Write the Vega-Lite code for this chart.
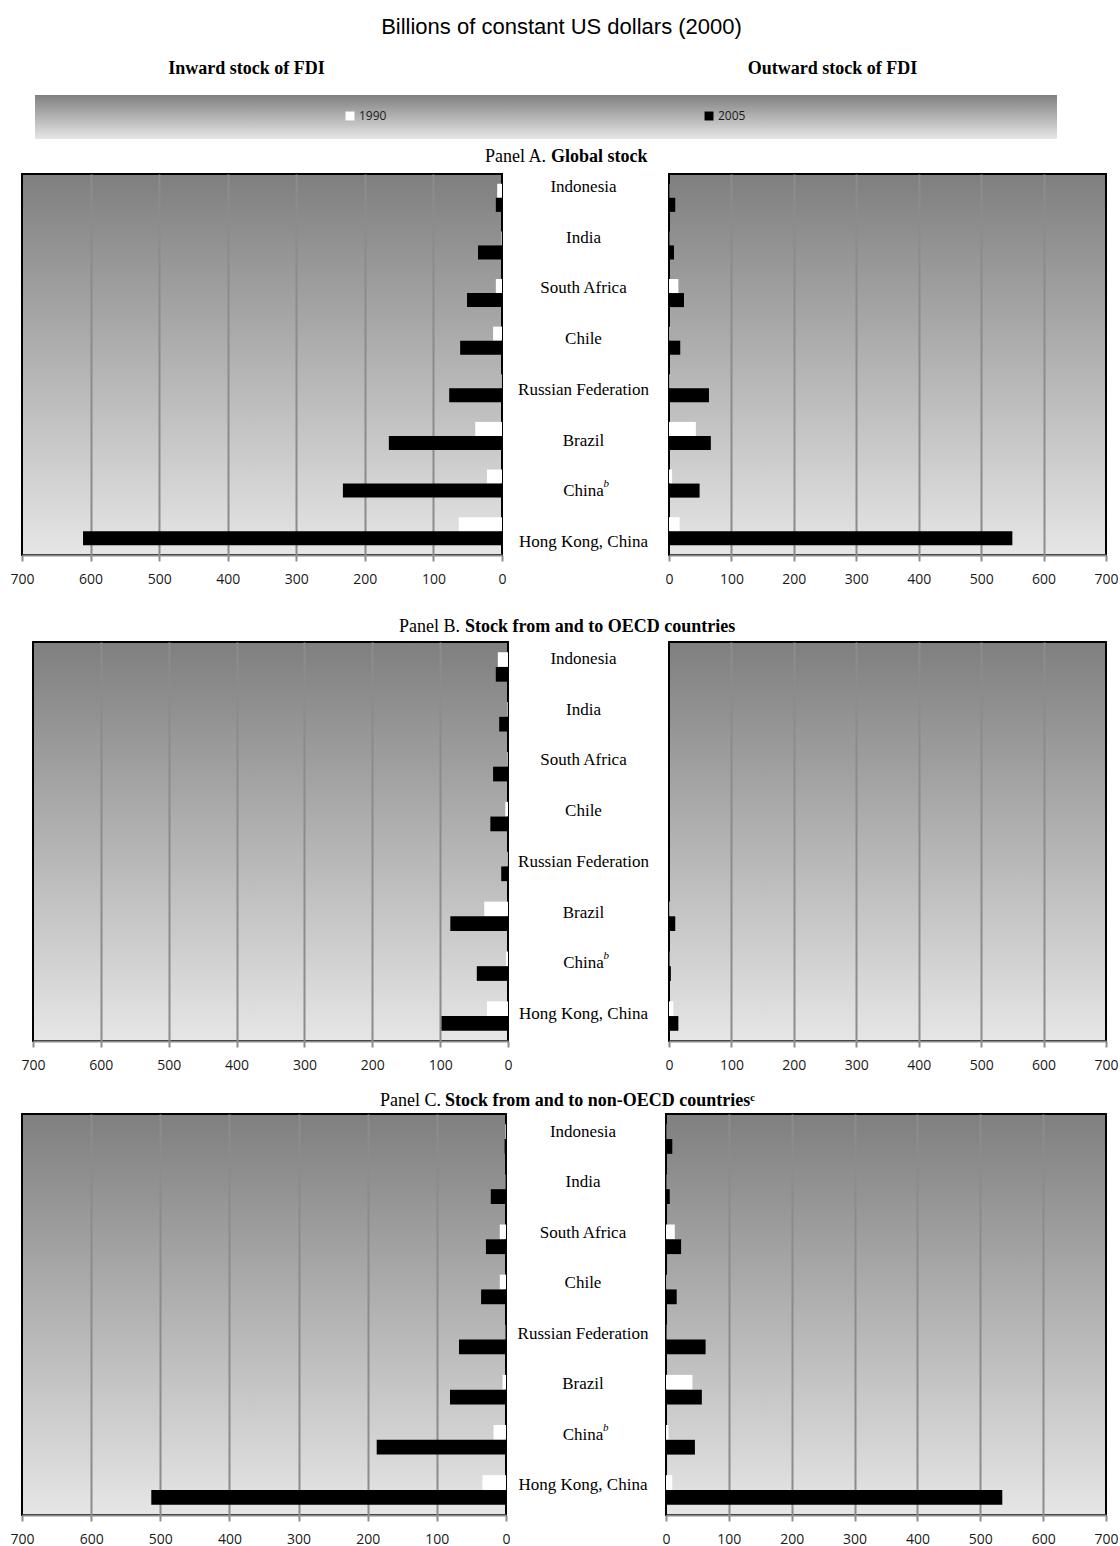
{
  "$schema": "https://vega.github.io/schema/vega-lite/v6.json",
  "background": "white",
  "padding": {"left": 0, "top": 16, "right": 0, "bottom": 0},
  "title": {"text": "Billions of constant US dollars (2000)", "font": "Liberation Sans", "fontSize": 22, "fontWeight": "normal", "anchor": "middle", "frame": "bounds", "dx": 2, "offset": 21},
  "datasets": {
    "countries": [
      {"country": "Indonesia", "note": ""},
      {"country": "India", "note": ""},
      {"country": "South Africa", "note": ""},
      {"country": "Chile", "note": ""},
      {"country": "Russian Federation", "note": ""},
      {"country": "Brazil", "note": ""},
      {"country": "China", "note": "b"},
      {"country": "Hong Kong, China", "note": ""}
    ],
    "fdi": [
      {"panel": "A", "side": "in", "country": "Indonesia", "year": "1990", "value": 7},
      {"panel": "A", "side": "in", "country": "Indonesia", "year": "2005", "value": 9},
      {"panel": "A", "side": "in", "country": "India", "year": "1990", "value": 1},
      {"panel": "A", "side": "in", "country": "India", "year": "2005", "value": 35},
      {"panel": "A", "side": "in", "country": "South Africa", "year": "1990", "value": 9},
      {"panel": "A", "side": "in", "country": "South Africa", "year": "2005", "value": 51},
      {"panel": "A", "side": "in", "country": "Chile", "year": "1990", "value": 13},
      {"panel": "A", "side": "in", "country": "Chile", "year": "2005", "value": 61},
      {"panel": "A", "side": "in", "country": "Russian Federation", "year": "1990", "value": 1},
      {"panel": "A", "side": "in", "country": "Russian Federation", "year": "2005", "value": 77},
      {"panel": "A", "side": "in", "country": "Brazil", "year": "1990", "value": 39},
      {"panel": "A", "side": "in", "country": "Brazil", "year": "2005", "value": 165},
      {"panel": "A", "side": "in", "country": "China", "year": "1990", "value": 22},
      {"panel": "A", "side": "in", "country": "China", "year": "2005", "value": 232},
      {"panel": "A", "side": "in", "country": "Hong Kong, China", "year": "1990", "value": 63},
      {"panel": "A", "side": "in", "country": "Hong Kong, China", "year": "2005", "value": 611},
      {"panel": "A", "side": "out", "country": "Indonesia", "year": "1990", "value": 0.5},
      {"panel": "A", "side": "out", "country": "Indonesia", "year": "2005", "value": 10},
      {"panel": "A", "side": "out", "country": "India", "year": "1990", "value": 0.5},
      {"panel": "A", "side": "out", "country": "India", "year": "2005", "value": 8},
      {"panel": "A", "side": "out", "country": "South Africa", "year": "1990", "value": 15},
      {"panel": "A", "side": "out", "country": "South Africa", "year": "2005", "value": 24},
      {"panel": "A", "side": "out", "country": "Chile", "year": "1990", "value": 1},
      {"panel": "A", "side": "out", "country": "Chile", "year": "2005", "value": 18},
      {"panel": "A", "side": "out", "country": "Russian Federation", "year": "1990", "value": 1},
      {"panel": "A", "side": "out", "country": "Russian Federation", "year": "2005", "value": 64},
      {"panel": "A", "side": "out", "country": "Brazil", "year": "1990", "value": 43},
      {"panel": "A", "side": "out", "country": "Brazil", "year": "2005", "value": 67},
      {"panel": "A", "side": "out", "country": "China", "year": "1990", "value": 5},
      {"panel": "A", "side": "out", "country": "China", "year": "2005", "value": 49},
      {"panel": "A", "side": "out", "country": "Hong Kong, China", "year": "1990", "value": 17},
      {"panel": "A", "side": "out", "country": "Hong Kong, China", "year": "2005", "value": 550},
      {"panel": "B", "side": "in", "country": "Indonesia", "year": "1990", "value": 15},
      {"panel": "B", "side": "in", "country": "Indonesia", "year": "2005", "value": 18},
      {"panel": "B", "side": "in", "country": "India", "year": "1990", "value": 1},
      {"panel": "B", "side": "in", "country": "India", "year": "2005", "value": 13},
      {"panel": "B", "side": "in", "country": "South Africa", "year": "1990", "value": 1},
      {"panel": "B", "side": "in", "country": "South Africa", "year": "2005", "value": 22},
      {"panel": "B", "side": "in", "country": "Chile", "year": "1990", "value": 4},
      {"panel": "B", "side": "in", "country": "Chile", "year": "2005", "value": 26},
      {"panel": "B", "side": "in", "country": "Russian Federation", "year": "1990", "value": 1},
      {"panel": "B", "side": "in", "country": "Russian Federation", "year": "2005", "value": 10},
      {"panel": "B", "side": "in", "country": "Brazil", "year": "1990", "value": 35},
      {"panel": "B", "side": "in", "country": "Brazil", "year": "2005", "value": 85},
      {"panel": "B", "side": "in", "country": "China", "year": "1990", "value": 3},
      {"panel": "B", "side": "in", "country": "China", "year": "2005", "value": 46},
      {"panel": "B", "side": "in", "country": "Hong Kong, China", "year": "1990", "value": 31},
      {"panel": "B", "side": "in", "country": "Hong Kong, China", "year": "2005", "value": 98},
      {"panel": "B", "side": "out", "country": "Indonesia", "year": "1990", "value": 0},
      {"panel": "B", "side": "out", "country": "Indonesia", "year": "2005", "value": 0.5},
      {"panel": "B", "side": "out", "country": "India", "year": "1990", "value": 0},
      {"panel": "B", "side": "out", "country": "India", "year": "2005", "value": 1},
      {"panel": "B", "side": "out", "country": "South Africa", "year": "1990", "value": 0},
      {"panel": "B", "side": "out", "country": "South Africa", "year": "2005", "value": 0.5},
      {"panel": "B", "side": "out", "country": "Chile", "year": "1990", "value": 0},
      {"panel": "B", "side": "out", "country": "Chile", "year": "2005", "value": 0.5},
      {"panel": "B", "side": "out", "country": "Russian Federation", "year": "1990", "value": 0},
      {"panel": "B", "side": "out", "country": "Russian Federation", "year": "2005", "value": 0.5},
      {"panel": "B", "side": "out", "country": "Brazil", "year": "1990", "value": 1},
      {"panel": "B", "side": "out", "country": "Brazil", "year": "2005", "value": 10},
      {"panel": "B", "side": "out", "country": "China", "year": "1990", "value": 0.5},
      {"panel": "B", "side": "out", "country": "China", "year": "2005", "value": 3},
      {"panel": "B", "side": "out", "country": "Hong Kong, China", "year": "1990", "value": 7},
      {"panel": "B", "side": "out", "country": "Hong Kong, China", "year": "2005", "value": 15},
      {"panel": "C", "side": "in", "country": "Indonesia", "year": "1990", "value": 1},
      {"panel": "C", "side": "in", "country": "Indonesia", "year": "2005", "value": 2},
      {"panel": "C", "side": "in", "country": "India", "year": "1990", "value": 0.5},
      {"panel": "C", "side": "in", "country": "India", "year": "2005", "value": 22},
      {"panel": "C", "side": "in", "country": "South Africa", "year": "1990", "value": 9},
      {"panel": "C", "side": "in", "country": "South Africa", "year": "2005", "value": 29},
      {"panel": "C", "side": "in", "country": "Chile", "year": "1990", "value": 9},
      {"panel": "C", "side": "in", "country": "Chile", "year": "2005", "value": 36},
      {"panel": "C", "side": "in", "country": "Russian Federation", "year": "1990", "value": 0.5},
      {"panel": "C", "side": "in", "country": "Russian Federation", "year": "2005", "value": 68},
      {"panel": "C", "side": "in", "country": "Brazil", "year": "1990", "value": 5},
      {"panel": "C", "side": "in", "country": "Brazil", "year": "2005", "value": 81},
      {"panel": "C", "side": "in", "country": "China", "year": "1990", "value": 18},
      {"panel": "C", "side": "in", "country": "China", "year": "2005", "value": 187},
      {"panel": "C", "side": "in", "country": "Hong Kong, China", "year": "1990", "value": 34},
      {"panel": "C", "side": "in", "country": "Hong Kong, China", "year": "2005", "value": 513},
      {"panel": "C", "side": "out", "country": "Indonesia", "year": "1990", "value": 0.5},
      {"panel": "C", "side": "out", "country": "Indonesia", "year": "2005", "value": 10},
      {"panel": "C", "side": "out", "country": "India", "year": "1990", "value": 0.5},
      {"panel": "C", "side": "out", "country": "India", "year": "2005", "value": 6},
      {"panel": "C", "side": "out", "country": "South Africa", "year": "1990", "value": 14},
      {"panel": "C", "side": "out", "country": "South Africa", "year": "2005", "value": 24},
      {"panel": "C", "side": "out", "country": "Chile", "year": "1990", "value": 1},
      {"panel": "C", "side": "out", "country": "Chile", "year": "2005", "value": 17},
      {"panel": "C", "side": "out", "country": "Russian Federation", "year": "1990", "value": 0.5},
      {"panel": "C", "side": "out", "country": "Russian Federation", "year": "2005", "value": 63},
      {"panel": "C", "side": "out", "country": "Brazil", "year": "1990", "value": 42},
      {"panel": "C", "side": "out", "country": "Brazil", "year": "2005", "value": 57},
      {"panel": "C", "side": "out", "country": "China", "year": "1990", "value": 4},
      {"panel": "C", "side": "out", "country": "China", "year": "2005", "value": 46},
      {"panel": "C", "side": "out", "country": "Hong Kong, China", "year": "1990", "value": 10},
      {"panel": "C", "side": "out", "country": "Hong Kong, China", "year": "2005", "value": 535}
    ]
  },
  "spacing": 0,
  "resolve": {"scale": {"yOffset": "independent"}},
  "vconcat": [
    {
      "hconcat": [
        {"width": 35, "height": 44, "view": {"stroke": null, "fill": null}, "data": {"values": []}, "mark": "point"},
        {"width": 511, "height": 44, "view": {"stroke": null, "fill": null}, "data": {"values": [{}]},
         "mark": {"type": "rect", "color": {"gradient": "linear", "x1": 0, "y1": 0, "x2": 0, "y2": 1, "stops": [{"offset": 0, "color": "#808080"}, {"offset": 1, "color": "#e6e6e6"}]}},
         "title": {"text": "Inward stock of FDI", "anchor": "middle", "frame": "group", "dx": -44, "offset": 17}},
        {"width": 511, "height": 44, "view": {"stroke": null, "fill": null}, "data": {"values": [{}]},
         "mark": {"type": "rect", "color": {"gradient": "linear", "x1": 0, "y1": 0, "x2": 0, "y2": 1, "stops": [{"offset": 0, "color": "#808080"}, {"offset": 1, "color": "#e6e6e6"}]}},
         "title": {"text": "Outward stock of FDI", "anchor": "middle", "frame": "group", "dx": 31, "offset": 17}}
      ],
      "spacing": 0, "bounds": "flush"
    },
    {"width": 1, "height": 8, "view": {"stroke": null, "fill": null}, "data": {"values": []}, "mark": "point"},
    {
      "hconcat": [
        {"width": 22, "height": 1, "view": {"stroke": null, "fill": null}, "data": {"values": []}, "mark": "point"},
        {
          "width": 480, "height": 381,
          "data": {"name": "fdi"},
          "transform": [{"filter": "datum.panel === 'A' && datum.side === 'in'"}],
          "title": {"text": "Panel A.", "anchor": "end", "frame": "group", "dx": 44, "offset": 8, "fontWeight": "normal"},
          "mark": {"type": "bar"},
          "encoding": {
            "y": {"field": "country", "type": "nominal", "sort": ["Indonesia","India","South Africa","Chile","Russian Federation","Brazil","China","Hong Kong, China"], "axis": null, "scale": {"paddingInner": 0.41, "paddingOuter": 0.205}},
            "yOffset": {"field": "year", "type": "nominal", "sort": ["1990","2005"]},
            "x": {"field": "value", "type": "quantitative", "scale": {"domain": [0, 700], "reverse": true, "nice": false}, "axis": {"values": [0,100,200,300,400,500,600,700], "title": null, "gridOpacity": {"condition": {"test": "datum.value === 0 || datum.value === 700", "value": 0}, "value": 1}}},
            "color": {"field": "year", "type": "nominal", "scale": {"domain": ["1990","2005"], "range": ["#ffffff","#000000"]}, "legend": {"title": null}}
          }
        },
        {
          "width": 167, "height": 381,
          "view": {"stroke": null, "fill": null},
          "data": {"name": "countries"},
          "encoding": {"y": {"field": "country", "type": "nominal", "sort": ["Indonesia","India","South Africa","Chile","Russian Federation","Brazil","China","Hong Kong, China"], "axis": null, "scale": {"type": "point", "padding": 0.256}}},
          "layer": [
            {"mark": {"type": "text", "font": "Liberation Serif", "fontSize": 17, "dx": -2, "baseline": "middle", "color": "#000000"}, "encoding": {"text": {"field": "country"}}},
            {"mark": {"type": "text", "font": "Liberation Serif", "fontSize": 11, "fontStyle": "italic", "align": "left", "dx": 18, "dy": -7, "color": "#000000"}, "encoding": {"text": {"field": "note"}}}
          ]
        },
        {
          "width": 437, "height": 381,
          "data": {"name": "fdi"},
          "transform": [{"filter": "datum.panel === 'A' && datum.side === 'out'"}],
          "title": {"text": "Global stock", "anchor": "start", "frame": "group", "dx": -118, "offset": 8},
          "mark": {"type": "bar"},
          "encoding": {
            "y": {"field": "country", "type": "nominal", "sort": ["Indonesia","India","South Africa","Chile","Russian Federation","Brazil","China","Hong Kong, China"], "axis": null, "scale": {"paddingInner": 0.41, "paddingOuter": 0.205}},
            "yOffset": {"field": "year", "type": "nominal", "sort": ["1990","2005"]},
            "x": {"field": "value", "type": "quantitative", "scale": {"domain": [0, 700], "nice": false}, "axis": {"values": [0,100,200,300,400,500,600,700], "title": null, "gridOpacity": {"condition": {"test": "datum.value === 0 || datum.value === 700", "value": 0}, "value": 1}}},
            "color": {"field": "year", "type": "nominal", "scale": {"domain": ["1990","2005"], "range": ["#ffffff","#000000"]}, "legend": {"title": null}}
          }
        }
      ],
      "spacing": 0, "bounds": "flush", "resolve": {"scale": {"yOffset": "independent"}}
    },
    {"width": 1, "height": 30, "view": {"stroke": null, "fill": null}, "data": {"values": []}, "mark": "point"},
    {
      "hconcat": [
        {"width": 33, "height": 1, "view": {"stroke": null, "fill": null}, "data": {"values": []}, "mark": "point"},
        {
          "width": 475, "height": 399,
          "data": {"name": "fdi"},
          "transform": [{"filter": "datum.panel === 'B' && datum.side === 'in'"}],
          "title": {"text": "Panel B.", "anchor": "end", "frame": "group", "dx": -48, "offset": 6, "fontWeight": "normal"},
          "mark": {"type": "bar"},
          "encoding": {
            "y": {"field": "country", "type": "nominal", "sort": ["Indonesia","India","South Africa","Chile","Russian Federation","Brazil","China","Hong Kong, China"], "axis": null, "scale": {"paddingInner": 0.41, "paddingOuter": 0.205}},
            "yOffset": {"field": "year", "type": "nominal", "sort": ["1990","2005"]},
            "x": {"field": "value", "type": "quantitative", "scale": {"domain": [0, 700], "reverse": true, "nice": false}, "axis": {"values": [0,100,200,300,400,500,600,700], "title": null, "gridOpacity": {"condition": {"test": "datum.value === 0 || datum.value === 700", "value": 0}, "value": 1}}},
            "color": {"field": "year", "type": "nominal", "scale": {"domain": ["1990","2005"], "range": ["#ffffff","#000000"]}, "legend": {"title": null}}
          }
        },
        {
          "width": 161, "height": 399,
          "view": {"stroke": null, "fill": null},
          "data": {"name": "countries"},
          "encoding": {"y": {"field": "country", "type": "nominal", "sort": ["Indonesia","India","South Africa","Chile","Russian Federation","Brazil","China","Hong Kong, China"], "axis": null, "scale": {"type": "point", "padding": 0.434}}},
          "layer": [
            {"mark": {"type": "text", "font": "Liberation Serif", "fontSize": 17, "dx": -5, "dy": -5, "baseline": "middle", "color": "#000000"}, "encoding": {"text": {"field": "country"}}},
            {"mark": {"type": "text", "font": "Liberation Serif", "fontSize": 11, "fontStyle": "italic", "align": "left", "dx": 15, "dy": -12, "color": "#000000"}, "encoding": {"text": {"field": "note"}}}
          ]
        },
        {
          "width": 437, "height": 399,
          "data": {"name": "fdi"},
          "transform": [{"filter": "datum.panel === 'B' && datum.side === 'out'"}],
          "title": {"text": "Stock from and to OECD countries", "anchor": "start", "frame": "group", "dx": -204, "offset": 6},
          "mark": {"type": "bar"},
          "encoding": {
            "y": {"field": "country", "type": "nominal", "sort": ["Indonesia","India","South Africa","Chile","Russian Federation","Brazil","China","Hong Kong, China"], "axis": null, "scale": {"paddingInner": 0.41, "paddingOuter": 0.205}},
            "yOffset": {"field": "year", "type": "nominal", "sort": ["1990","2005"]},
            "x": {"field": "value", "type": "quantitative", "scale": {"domain": [0, 700], "nice": false}, "axis": {"values": [0,100,200,300,400,500,600,700], "title": null, "gridOpacity": {"condition": {"test": "datum.value === 0 || datum.value === 700", "value": 0}, "value": 1}}},
            "color": {"field": "year", "type": "nominal", "scale": {"domain": ["1990","2005"], "range": ["#ffffff","#000000"]}, "legend": {"title": null}}
          }
        }
      ],
      "spacing": 0, "bounds": "flush", "resolve": {"scale": {"yOffset": "independent"}}
    },
    {"width": 1, "height": 18, "view": {"stroke": null, "fill": null}, "data": {"values": []}, "mark": "point"},
    {
      "hconcat": [
        {"width": 22, "height": 1, "view": {"stroke": null, "fill": null}, "data": {"values": []}, "mark": "point"},
        {
          "width": 484, "height": 401,
          "data": {"name": "fdi"},
          "transform": [{"filter": "datum.panel === 'C' && datum.side === 'in'"}],
          "title": {"text": "Panel C.", "anchor": "end", "frame": "group", "dx": -65, "offset": 4, "fontWeight": "normal"},
          "mark": {"type": "bar"},
          "encoding": {
            "y": {"field": "country", "type": "nominal", "sort": ["Indonesia","India","South Africa","Chile","Russian Federation","Brazil","China","Hong Kong, China"], "axis": null, "scale": {"paddingInner": 0.41, "paddingOuter": 0.205}},
            "yOffset": {"field": "year", "type": "nominal", "sort": ["1990","2005"]},
            "x": {"field": "value", "type": "quantitative", "scale": {"domain": [0, 700], "reverse": true, "nice": false}, "axis": {"values": [0,100,200,300,400,500,600,700], "title": null, "gridOpacity": {"condition": {"test": "datum.value === 0 || datum.value === 700", "value": 0}, "value": 1}}},
            "color": {"field": "year", "type": "nominal", "scale": {"domain": ["1990","2005"], "range": ["#ffffff","#000000"]}, "legend": {"title": null}}
          }
        },
        {
          "width": 160, "height": 401,
          "view": {"stroke": null, "fill": null},
          "data": {"name": "countries"},
          "encoding": {"y": {"field": "country", "type": "nominal", "sort": ["Indonesia","India","South Africa","Chile","Russian Federation","Brazil","China","Hong Kong, China"], "axis": null, "scale": {"type": "point", "padding": 0.476}}},
          "layer": [
            {"mark": {"type": "text", "font": "Liberation Serif", "fontSize": 17, "dx": -3, "dy": -6, "baseline": "middle", "color": "#000000"}, "encoding": {"text": {"field": "country"}}},
            {"mark": {"type": "text", "font": "Liberation Serif", "fontSize": 11, "fontStyle": "italic", "align": "left", "dx": 17, "dy": -13, "color": "#000000"}, "encoding": {"text": {"field": "note"}}}
          ]
        },
        {
          "width": 440, "height": 401,
          "data": {"name": "fdi"},
          "transform": [{"filter": "datum.panel === 'C' && datum.side === 'out'"}],
          "title": {"text": "Stock from and to non-OECD countriesᶜ", "anchor": "start", "frame": "group", "dx": -221, "offset": 4},
          "mark": {"type": "bar"},
          "encoding": {
            "y": {"field": "country", "type": "nominal", "sort": ["Indonesia","India","South Africa","Chile","Russian Federation","Brazil","China","Hong Kong, China"], "axis": null, "scale": {"paddingInner": 0.41, "paddingOuter": 0.205}},
            "yOffset": {"field": "year", "type": "nominal", "sort": ["1990","2005"]},
            "x": {"field": "value", "type": "quantitative", "scale": {"domain": [0, 700], "nice": false}, "axis": {"values": [0,100,200,300,400,500,600,700], "title": null, "gridOpacity": {"condition": {"test": "datum.value === 0 || datum.value === 700", "value": 0}, "value": 1}}},
            "color": {"field": "year", "type": "nominal", "scale": {"domain": ["1990","2005"], "range": ["#ffffff","#000000"]}, "legend": {"title": null}}
          }
        }
      ],
      "spacing": 0, "bounds": "flush", "resolve": {"scale": {"yOffset": "independent"}}
    }
  ],
  "config": {
    "view": {"stroke": "#000000", "strokeWidth": 2, "fill": {"gradient": "linear", "x1": 0, "y1": 0, "x2": 0, "y2": 1, "stops": [{"offset": 0, "color": "#7f7f7f"}, {"offset": 1, "color": "#e6e6e6"}]}},
    "concat": {"spacing": 0},
    "axis": {"domainColor": "#8c8c8c", "domainWidth": 2, "tickColor": "#8c8c8c", "tickWidth": 2, "tickSize": 6, "grid": true, "gridColor": "#8c8c8c", "gridWidth": 2, "labelFont": "Open Sans", "labelFontSize": 14, "labelColor": "#1a1a1a", "labelPadding": 11, "labelFlush": false, "labelOverlap": false},
    "legend": {"orient": "none", "legendX": 344, "legendY": 15, "direction": "horizontal", "symbolType": "square", "symbolSize": 80, "symbolStrokeWidth": 0, "labelFont": "Open Sans", "labelFontSize": 12, "labelColor": "#1a1a1a", "columnPadding": 316, "labelOffset": 3},
    "title": {"font": "Liberation Serif", "fontSize": 18, "fontWeight": "bold", "color": "#000000"}
  }
}
